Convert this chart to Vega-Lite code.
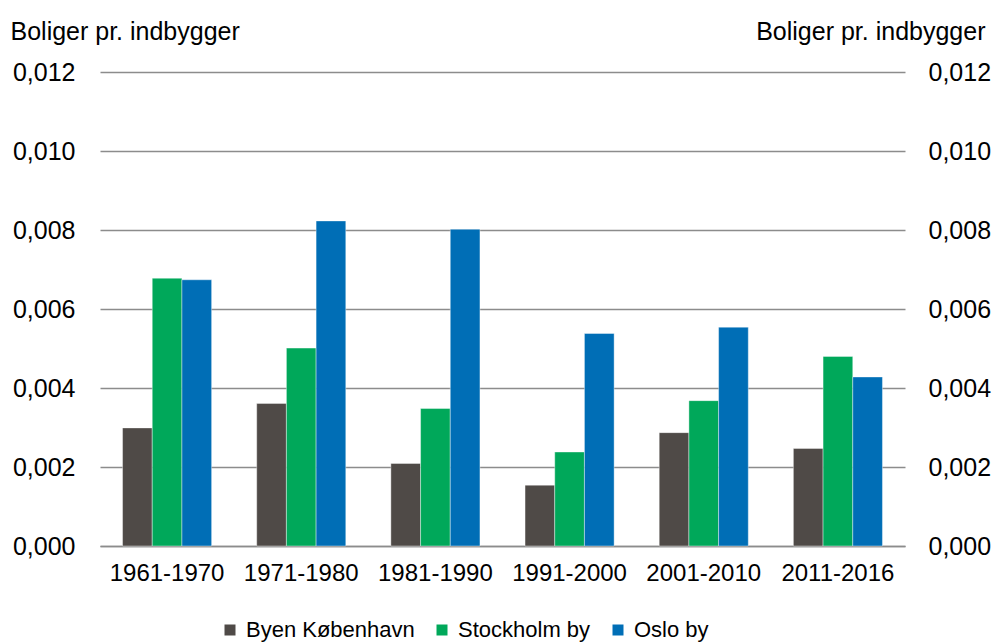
{
  "$schema": "https://vega.github.io/schema/vega-lite/v6.json",
  "width": 805,
  "height": 474,
  "autosize": {"type": "none"},
  "padding": {"left": 100, "top": 72, "right": 91, "bottom": 98},
  "background": "white",
  "config": {
    "font": "Liberation Sans",
    "view": {"stroke": null},
    "axis": {"labelFont": "Liberation Sans", "titleFont": "Liberation Sans", "labelColor": "#000000", "titleColor": "#000000"}
  },
  "data": {
    "values": [
      {"periode": "1961-1970", "by": "Byen København", "v": 0.00299},
      {"periode": "1961-1970", "by": "Stockholm by", "v": 0.00678},
      {"periode": "1961-1970", "by": "Oslo by", "v": 0.00674},
      {"periode": "1971-1980", "by": "Byen København", "v": 0.00361},
      {"periode": "1971-1980", "by": "Stockholm by", "v": 0.00501},
      {"periode": "1971-1980", "by": "Oslo by", "v": 0.00823},
      {"periode": "1981-1990", "by": "Byen København", "v": 0.00209},
      {"periode": "1981-1990", "by": "Stockholm by", "v": 0.00348},
      {"periode": "1981-1990", "by": "Oslo by", "v": 0.00802},
      {"periode": "1991-2000", "by": "Byen København", "v": 0.00154},
      {"periode": "1991-2000", "by": "Stockholm by", "v": 0.00238},
      {"periode": "1991-2000", "by": "Oslo by", "v": 0.00538},
      {"periode": "2001-2010", "by": "Byen København", "v": 0.00287},
      {"periode": "2001-2010", "by": "Stockholm by", "v": 0.00368},
      {"periode": "2001-2010", "by": "Oslo by", "v": 0.00554},
      {"periode": "2011-2016", "by": "Byen København", "v": 0.00247},
      {"periode": "2011-2016", "by": "Stockholm by", "v": 0.0048},
      {"periode": "2011-2016", "by": "Oslo by", "v": 0.00428}
    ]
  },
  "encoding": {
    "x": {
      "field": "periode", "type": "nominal", "sort": null,
      "scale": {"paddingInner": 0.336, "paddingOuter": 0.168},
      "axis": {"title": null, "labelAngle": 0, "labelFontSize": 24, "labelPadding": 15, "ticks": false, "domain": true, "domainColor": "#8c8c8c", "domainWidth": 1.3, "grid": false}
    },
    "xOffset": {"field": "by", "type": "nominal", "sort": ["Byen København", "Stockholm by", "Oslo by"], "scale": {"paddingInner": 0, "paddingOuter": 0}}
  },
  "layer": [
    {
      "mark": {"type": "bar", "stroke": "#ffffff", "strokeOpacity": 0.5, "strokeWidth": 0.8},
      "encoding": {
        "y": {
          "field": "v", "type": "quantitative",
          "scale": {"domain": [0, 0.012], "nice": false},
          "axis": {
            "orient": "left", "values": [0, 0.002, 0.004, 0.006, 0.008, 0.01, 0.012],
            "labelExpr": "replace(format(datum.value, '.3f'), '.', ',')",
            "labelFontSize": 25, "labelPadding": 25, "ticks": false, "domain": false,
            "grid": true, "gridColor": "#8c8c8c", "gridWidth": 1.3,
            "title": "Boliger pr. indbygger", "titleAngle": 0, "titleFontSize": 25, "titleFontWeight": "normal",
            "titleAlign": "left", "titleBaseline": "alphabetic", "titleX": -90, "titleY": -33
          }
        },
        "color": {
          "field": "by", "type": "nominal",
          "scale": {"domain": ["Byen København", "Stockholm by", "Oslo by"], "range": ["#4f4a47", "#00a85a", "#006eb6"]},
          "legend": {
            "title": null, "orient": "none", "direction": "horizontal", "legendX": 119, "legendY": 547,
            "symbolType": "square", "symbolSize": 121, "symbolStrokeWidth": 0, "labelFontSize": 22, "labelOffset": 5,
            "labelLimit": 0, "columnPadding": 16, "labelColor": "#000000", "labelFont": "Liberation Sans"
          }
        }
      }
    },
    {
      "mark": {"type": "bar", "opacity": 0},
      "encoding": {
        "y": {
          "field": "v", "type": "quantitative",
          "scale": {"domain": [0, 0.012], "nice": false},
          "axis": {
            "orient": "right", "values": [0, 0.002, 0.004, 0.006, 0.008, 0.01, 0.012],
            "labelExpr": "replace(format(datum.value, '.3f'), '.', ',')",
            "labelFontSize": 25, "labelPadding": 23, "ticks": false, "domain": false, "grid": false,
            "title": "Boliger pr. indbygger", "titleAngle": 0, "titleFontSize": 25, "titleFontWeight": "normal",
            "titleAlign": "right", "titleBaseline": "alphabetic", "titleX": 80, "titleY": -33
          }
        }
      }
    }
  ],
  "resolve": {"scale": {"y": "independent"}}
}
